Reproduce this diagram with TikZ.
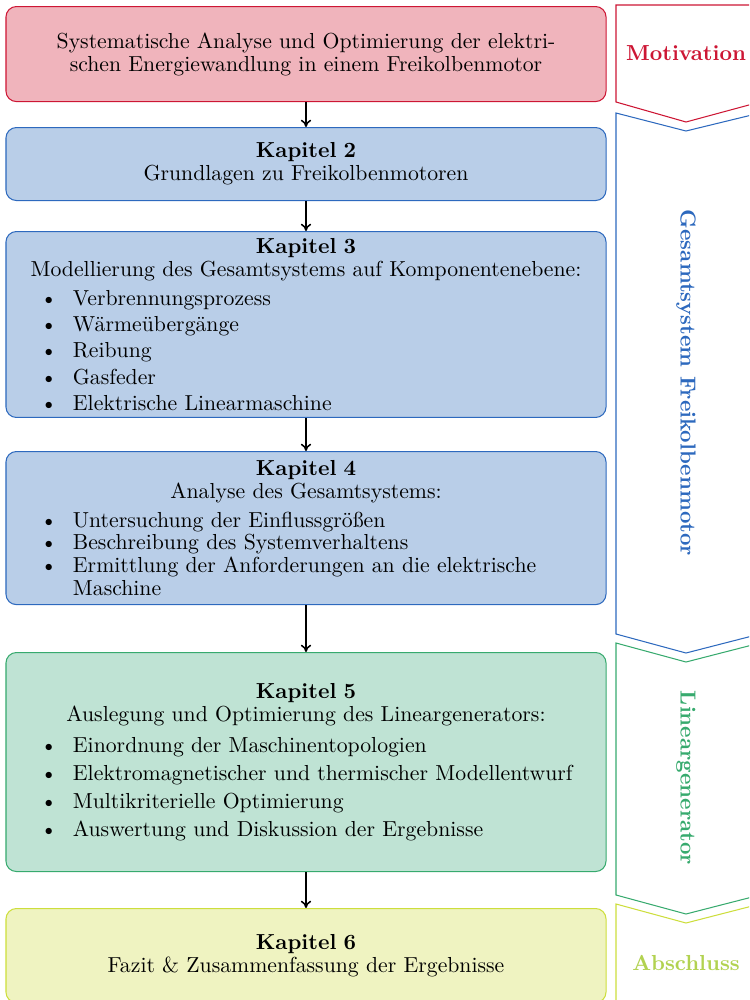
\documentclass[tikz,border=0pt]{standalone}
\usetikzlibrary{arrows.meta}

% colour scheme of the four phases
\definecolor{motline}{RGB}{205,22,52}
\definecolor{motfill}{RGB}{240,180,188}
\definecolor{gesline}{RGB}{45,105,190}
\definecolor{gesfill}{RGB}{185,206,232}
\definecolor{linline}{RGB}{55,170,110}
\definecolor{linfill}{RGB}{191,227,212}
\definecolor{absline}{RGB}{205,222,60}
\definecolor{absfill}{RGB}{239,243,193}
\definecolor{abstext}{RGB}{178,210,80}

% bullet item inside a chapter box
\newcommand\li{\noindent\llap{\textbullet\hspace{7.5pt}}}

\begin{document}
\begin{tikzpicture}[x=0.4808pt,y=-0.4808pt,
  chapterbox/.style={draw, rounded corners=5pt, line width=0.5pt,
    anchor=north, minimum width=288.5pt, text width=288.5pt,
    inner xsep=0pt, inner ysep=0pt,
    font=\fontsize{10.45}{11}\selectfont\setlength{\parindent}{0pt}},
  phase/.style={line width=0.5pt, fill=white},
  phaselabel/.style={font=\fontsize{10.45}{11}\selectfont\bfseries},
  flow/.style={-{To[length=3.5pt,width=5pt]}, line width=0.75pt}]

\useasboundingbox (0,0) rectangle (749,1000);
\clip (0,0) rectangle (749,1000);

% phase markers on the right
\draw[phase, draw=motline] (616,5) -- (760,5) -- (760,102) -- (686,122) -- (616,102) -- cycle;
\draw[phase, draw=gesline] (616,113) -- (686,131) -- (760,113) -- (760,634) -- (686,653) -- (616,634) -- cycle;
\draw[phase, draw=linline] (616,643) -- (686,662) -- (760,643) -- (760,895) -- (686,914) -- (616,895) -- cycle;
\draw[phase, draw=absline] (616,904) -- (686,923) -- (760,904) -- (760,1010) -- (616,1010) -- cycle;

\node[phaselabel, text=motline] (lmot) at (686,53) {Motivation};
\node[phaselabel, text=gesline, rotate=-90] (lges) at (686,383) {Gesamtsystem Freikolbenmotor};
\node[phaselabel, text=linline, rotate=-90] (llin) at (686,778) {Lineargenerator};
\node[phaselabel, text=abstext] (labs) at (686,963) {Abschluss};

% chapter boxes
\node[chapterbox, draw=motline, fill=motfill, minimum height=45.7pt, align=center] (m) at (306,6)
  {Systematische Analyse und Optimierung der elektri-\\schen Energiewandlung in einem Freikolbenmotor};

\node[chapterbox, draw=gesline, fill=gesfill, minimum height=35.1pt, align=center] (k2) at (306,127)
  {\textbf{Kapitel 2}\\Grundlagen zu Freikolbenmotoren};

\node[chapterbox, draw=gesline, fill=gesfill, minimum height=89.4pt] (k3) at (306,231)
  {{\centering\textbf{Kapitel 3}\\Modellierung des Gesamtsystems auf Komponentenebene:\par}
   {\raggedright\leftskip=32.2pt\parskip=1.6pt\vspace{1.4pt}
   \li Verbrennungsprozess\par
   \li Wärmeübergänge\par
   \li Reibung\par
   \li Gasfeder\par
   \li Elektrische Linearmaschine\par}};

\node[chapterbox, draw=gesline, fill=gesfill, minimum height=73.6pt] (k4) at (306,451)
  {{\centering\textbf{Kapitel 4}\\Analyse des Gesamtsystems:\par}
   {\raggedright\leftskip=32.2pt\parskip=0pt\vspace{2.9pt}
   \li Untersuchung der Einflussgrößen\par
   \li Beschreibung des Systemverhaltens\par
   \li Ermittlung der Anforderungen an die elektrische Maschine\par}};

\node[chapterbox, draw=linline, fill=linfill, minimum height=105.3pt] (k5) at (306,652)
  {{\centering\textbf{Kapitel 5}\\Auslegung und Optimierung des Lineargenerators:\par}
   {\raggedright\leftskip=32.2pt\parskip=2.46pt\vspace{1.45pt}
   \li Einordnung der Maschinentopologien\par
   \li Elektromagnetischer und thermischer Modellentwurf\par
   \li Multikriterielle Optimierung\par
   \li Auswertung und Diskussion der Ergebnisse\par}};

\node[chapterbox, draw=absline, fill=absfill, minimum height=45.2pt, align=center] (k6) at (306,908)
  {\textbf{Kapitel 6}\\Fazit \& Zusammenfassung der Ergebnisse};

% flow between chapters
\draw[flow] (m.south) -- (k2.north);
\draw[flow] (k2.south) -- (k3.north);
\draw[flow] (k3.south) -- (k4.north);
\draw[flow] (k4.south) -- (k5.north);
\draw[flow] (k5.south) -- (k6.north);
\end{tikzpicture}
\end{document}
